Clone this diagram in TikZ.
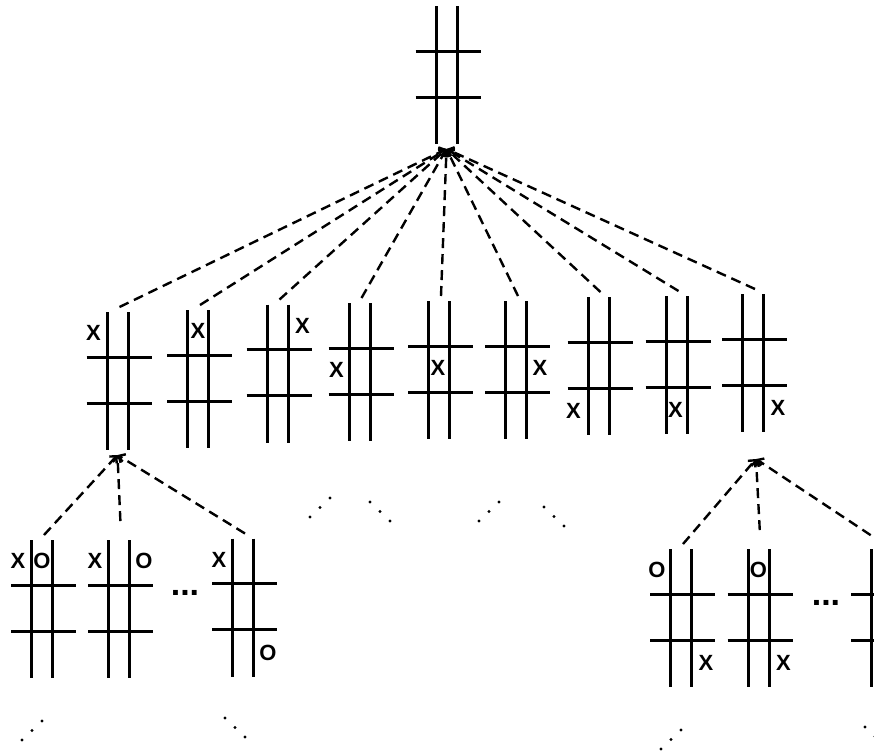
\documentclass[tikz,border=0pt]{standalone}
\usepackage{fontspec}
\setmainfont{Liberation Sans}
\usetikzlibrary{arrows.meta}
\definecolor{lineblack}{RGB}{0,0,0}
\tikzset{
  board/.pic={
    \draw[lineblack, line width=3pt] (-10.5,-68) -- (-10.5,70) (10.5,-68) -- (10.5,70);
    \draw[lineblack, line width=3pt] (-31,-23) -- (34,-23) (-31,23) -- (34,23);
    \coordinate (-top) at (2,-73);
    \coordinate (-bot) at (0,75);
    \coordinate (-nw) at (-24,-47);
    \coordinate (-n) at (0,-47);
    \coordinate (-ne) at (25,-47);
    \coordinate (-w) at (-23,-1);
    \coordinate (-c) at (-1,-1);
    \coordinate (-e) at (24,-1);
    \coordinate (-sw) at (-25,46);
    \coordinate (-s) at (-1,46);
    \coordinate (-se) at (25,46);
  },
  piece/.style={font=\fontsize{22}{22}\selectfont\bfseries, inner sep=0pt},
  more/.style={font=\fontsize{34}{34}\selectfont\bfseries, inner sep=0pt},
  move/.style={lineblack, line width=2.4pt, dash pattern=on 10pt off 6pt, -{Straight Barb[length=5pt,width=10pt]}},
}

\begin{document}
\begin{tikzpicture}[x=1pt, y=-1pt]
\useasboundingbox (0,0) rectangle (874,755);
\clip (0,0) rectangle (874,755);

\pic (t) at (446.5,74) {board};
\foreach \n/\x/\y in {m1/117.5/380, m2/198/378, m3/277.5/372.5, m4/359.5/371, m5/439/369,
                      m6/516/369, m7/598.5/365, m8/676.5/364, m9/753/362,
                      l1/42/608, l2/119/608, l3/243/606.5,
                      r1/681/617, r2/758.5/617, r3/882/617}
  \pic (\n) at (\x,\y) {board};

\foreach \n/\c/\t in {m1/nw/X, m2/n/X, m3/ne/X, m4/w/X, m5/c/X, m6/e/X, m7/sw/X, m8/s/X, m9/se/X,
                      l1/nw/X, l1/n/O, l2/nw/X, l2/ne/O, l3/nw/X, l3/se/O,
                      r1/nw/O, r1/se/X, r2/n/O, r2/se/X}
  \node[piece] (\n\t) at (\n-\c) {\t};

\coordinate (m9-tip) at (756,459);
\foreach \i in {1,...,9}
  \draw[move] (m\i-top) -- (t-bot);
\draw[move] (l1-top) -- (m1-bot);
\draw[move, shorten <=14pt] (l2-top) -- (m1-bot);
\draw[move] (l3-top) -- (m1-bot);
\draw[move] (r1-top) -- (m9-tip);
\draw[move, shorten <=14pt] (r2-top) -- (m9-tip);
\draw[move] (r3-top) -- (m9-tip);

\node[more] (ldots) at (185,593) {...};
\node[more] (rdots) at (826,603) {...};

\foreach \x/\y/\dx/\dy in {310/517/10/-9.5, 370/502/10/9.5, 479/521/10/-9.5, 544/507/10/9.5,
                           22/740/10/-9.5, 225/718/10/9.5, 661/749/10/-9.5, 865/727/10/9.5}
  \foreach \k in {0,1,2}
    \fill[lineblack] (\x+\k*\dx, \y+\k*\dy) circle (1.7pt);
\end{tikzpicture}
\end{document}
